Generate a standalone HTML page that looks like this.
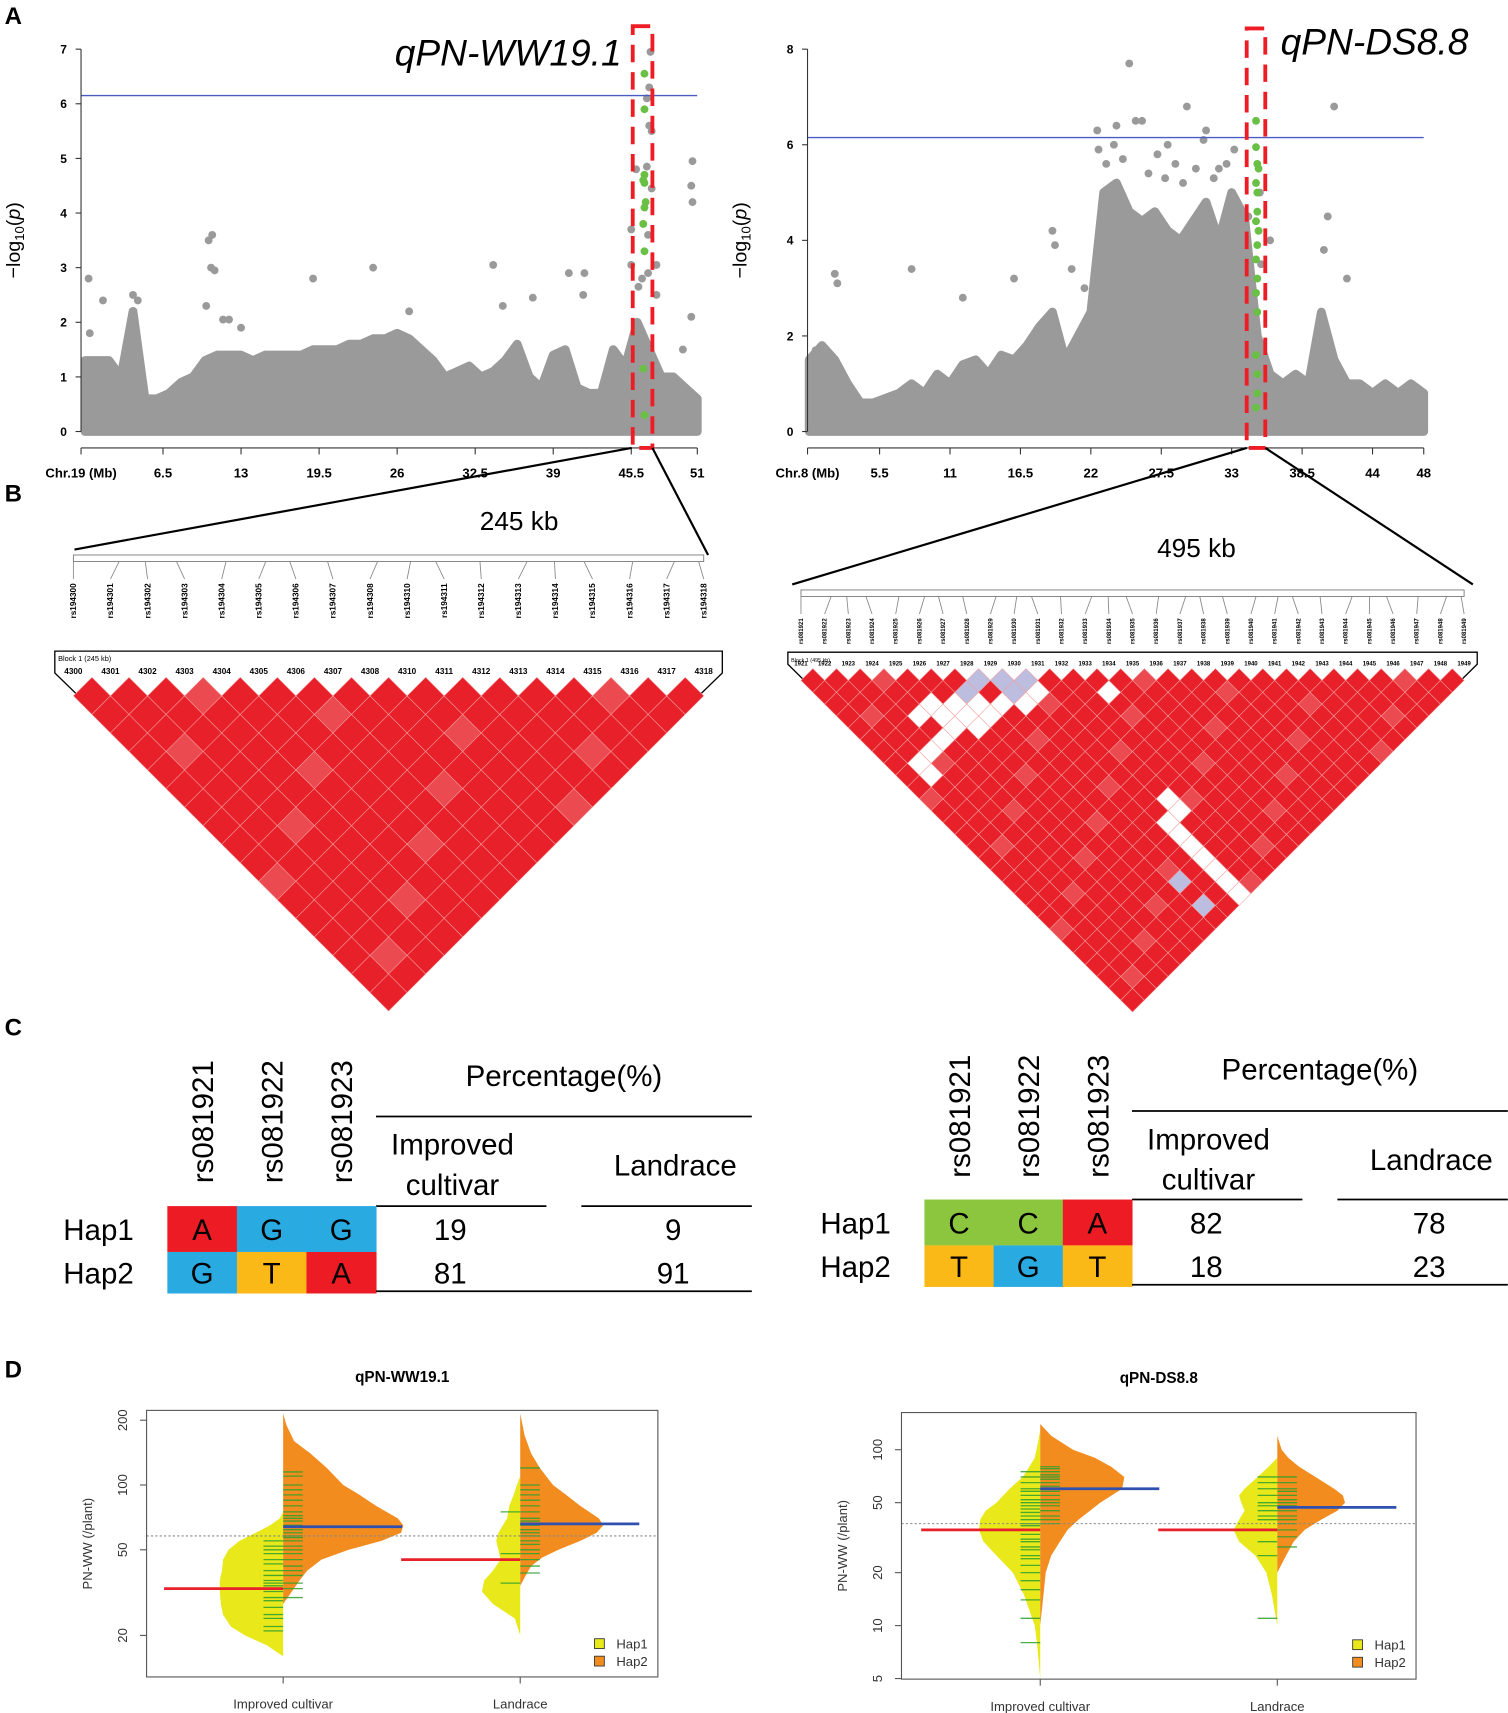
<!DOCTYPE html>
<html><head><meta charset="utf-8">
<style>
html,body{margin:0;padding:0;background:#fff;}
svg{display:block;font-family:"Liberation Sans",Arial,sans-serif;}
</style></head>
<body>
<svg id="fig" width="1508" height="1713" viewBox="0 0 1380 1568" xmlns="http://www.w3.org/2000/svg">
<g id="root"></g>
</svg>
<script>
// ===== Data: Panel A =====
const leftEnvPos = [0,1,2,3,4,5,6,7,8,9,10,11,12,13,14,15,16,17,18,19,20,21,22,23,24,25,26,27,28,29,30,31,32,33,34,35,36,37,38,39,40,41,42,43,44,45,46,47,48,49,50,51];
const leftEnvVal = [1.3,1.3,1.3,1.0,2.2,0.6,0.6,0.7,0.9,1.0,1.3,1.4,1.4,1.4,1.3,1.4,1.4,1.4,1.4,1.5,1.5,1.5,1.6,1.6,1.7,1.7,1.8,1.7,1.5,1.3,1.0,1.1,1.2,1.0,1.1,1.3,1.6,1.0,0.8,1.4,1.5,0.8,0.7,0.7,1.5,1.2,2.0,1.5,1.0,1.0,0.8,0.6];
const leftPtPos = [0.3,0.4,1.5,4.0,4.4,4.1,10.3,10.6,10.5,10.8,10.1,11.5,12.0,13.0,19.0,24.0,27.0,34.0,34.8,37.3,40.3,41.6,41.5,45.9,45.5,45.5,46.1,47.1,47.0,47.0,47.2,46.8,47.2,46.9,47.6,46.9,47.6,50.6,50.5,50.6,50.5,46.4,49.8,46.8];
const leftPtVal = [2.8,1.8,2.4,2.5,2.4,2.1,3.5,3.6,3.0,2.95,2.3,2.05,2.05,1.9,2.8,3.0,2.2,3.05,2.3,2.45,2.9,2.9,2.5,4.8,3.7,3.05,2.65,6.95,6.3,5.6,5.5,4.85,4.45,3.6,3.05,2.9,2.5,4.95,4.5,4.2,2.1,2.8,1.5,6.1];
const leftGreenPos = [46.6,46.6,46.6,46.5,46.6,46.7,46.6,46.5,46.6,46.5,46.6];
const leftGreenVal = [6.55,5.9,4.7,4.6,4.55,4.2,4.1,3.8,3.3,1.15,0.3];
const leftYTicks = [0,1,2,3,4,5,6,7];
const leftXTicks = [6.5,13,19.5,26,32.5,39,45.5,51];
const leftThreshold = 6.15;

const rightEnvPos = [0,1,2,3,4,5,6,7,8,9,10,11,12,13,14,15,16,17,18,19,20,21,22,23,24,25,26,27,28,29,30,31,32,33,34,35,36,37,38,39,40,41,42,43,44,45,46,47,48];
const rightEnvVal = [1.5,1.8,1.5,1.0,0.6,0.6,0.7,0.8,1.0,0.8,1.2,1.0,1.4,1.5,1.2,1.6,1.5,1.8,2.2,2.5,1.5,2.0,2.5,5.0,5.2,4.6,4.4,4.6,4.2,4.0,4.4,4.8,4.0,5.0,4.5,2.0,1.2,1.0,1.2,1.0,2.5,1.5,1.0,1.0,0.8,1.0,0.8,1.0,0.8];
const rightPtPos = [0.5,2.0,2.2,8.0,12.0,16.0,19.0,19.2,22.5,22.6,24.0,25.0,26.0,28.0,29.5,31.0,32.0,41.0,40.5,40.2,42.0,40.0,36.0,35.2,34.3,35.3,21.5,20.5,23.2,23.8,24.5,25.5,26.5,27.2,27.8,28.6,29.2,30.2,30.8,31.6,32.6,33.2];
const rightPtVal = [1.7,3.3,3.1,3.4,2.8,3.2,4.2,3.9,6.3,5.9,6.4,7.7,6.5,6.0,6.8,6.3,5.5,6.8,4.5,3.8,3.2,2.5,4.0,5.0,4.5,3.5,3.0,3.4,5.6,6.0,5.7,6.5,5.4,5.8,5.3,5.6,5.2,5.5,6.1,5.3,5.6,5.9];
const rightGreenPos = [34.9,34.9,35.0,35.1,34.9,35.0,35.0,34.9,35.1,35.0,34.9,35.0,34.9,35.0,34.9,35.0,35.0,34.9];
const rightGreenVal = [6.5,5.95,5.6,5.5,5.2,5.0,4.6,4.4,4.2,3.9,3.6,3.2,2.9,2.5,1.6,1.2,0.8,0.5];
const rightYTicks = [0,2,4,6,8];
const rightXTicks = [5.5,11,16.5,22,27.5,33,38.5,44,48];
const rightThreshold = 6.15;

// ===== Data: Panel B (LD) =====
const leftSnpIds = ["rs194300","rs194301","rs194302","rs194303","rs194304","rs194305","rs194306","rs194307","rs194308","rs194310","rs194311","rs194312","rs194313","rs194314","rs194315","rs194316","rs194317","rs194318"];
const leftHdrIds = ["4300","4301","4302","4303","4304","4305","4306","4307","4308","4310","4311","4312","4313","4314","4315","4316","4317","4318"];
const rightSnpNums = ["1921","1922","1923","1924","1925","1926","1927","1928","1929","1930","1931","1932","1933","1934","1935","1936","1937","1938","1939","1940","1941","1942","1943","1944","1945","1946","1947","1948","1949"];
const rightWhiteI = [3,4,4,5,5,5,6,6,7,4,3,2,1,1,8,9,12,10,10,9,9,9,9,9,9,9];
const rightWhiteJ = [7,7,8,8,9,10,10,9,10,9,9,9,9,10,11,11,14,21,22,22,23,24,25,26,27,28];
const rightLavI = [6,7,8,8,9,7,7];
const rightLavJ = [8,8,9,10,10,25,27];

// ===== Data: Panel C =====
const hapNames = ["Hap1","Hap2"];
const leftAlleles = [["A","G","G"],["G","T","A"]];
const rightAlleles = [["C","C","A"],["T","G","T"]];
const leftImproved = [19,81], leftLandrace = [9,91];
const rightImproved = [82,18], rightLandrace = [78,23];

// ===== Data: Panel D =====
const dL_IH1_v=[16,18,20,22,25,28,32,36,40,45,50,55,60,65,70,75], dL_IH1_w=[0,15,35,48,55,57,58,58,56,55,50,40,25,12,3,0];
const dL_IH2_v=[28,32,36,40,45,50,55,60,65,70,80,90,100,120,140,160,190,215], dL_IH2_w=[0,8,15,22,35,60,90,108,110,105,85,70,55,40,25,10,3,0];
const dL_LH1_v=[20,24,28,32,36,40,45,50,55,60,70,80,90,100,110], dL_LH1_w=[0,5,25,35,33,25,18,20,22,20,12,10,6,3,0];
const dL_LH2_v=[34,38,42,46,50,55,60,65,70,80,90,100,120,140,170,215], dL_LH2_w=[0,5,10,20,35,55,70,76,72,55,42,30,18,10,4,0];
const dR_IH1_v=[5,8,10,15,20,25,30,35,40,45,50,60,70,80,90,110,130], dR_IH1_w=[0,3,5,15,25,40,52,56,55,50,40,28,16,10,5,2,0];
const dR_IH2_v=[10,15,20,25,30,35,40,50,60,70,80,90,100,120,140], dR_IH2_w=[0,3,5,10,18,25,35,55,75,77,65,50,30,10,0];
const dR_LH1_v=[10,15,20,25,30,35,40,45,50,55,60,70,80,90], dR_LH1_w=[0,5,10,20,35,40,35,30,33,35,30,18,8,0];
const dR_LH2_v=[20,25,30,35,40,45,50,55,60,70,80,90,100,120], dR_LH2_w=[0,8,15,25,40,55,62,60,52,35,20,10,4,0];
const gL_IH1=[21,22,24,25,27,29,30,32,33,34,35,36,38,40,43,45,48,50,52,55];
const gL_IH2=[30,33,35,38,40,42,45,48,50,52,55,57,58,60,62,65,68,70,72,75,80,85,90,95,100,110,115];
const gL_LH1=[35,48,75];
const gL_LH2=[39,42,45,48,50,53,55,58,60,62,65,68,70,75,80,85,90,95,100,120];
const gR_IH1=[8,11,14,16,18,20,22,24,25,27,28,30,31,33,35,37,38,40,42,44,46,48,50,52,55,58,60,65,70,75];
const gR_IH2=[38,40,42,45,48,50,52,55,58,60,62,65,68,70,72,75,78,80];
const gR_LH1=[11,25,30,35,40,42,45,48,50,55,60,65,70];
const gR_LH2=[28,32,35,38,40,42,45,48,50,52,55,58,60,65,70];
const leftMeans = {ih1:33,ih2:64,lh1:45,lh2:66};
const rightMeans = {ih1:35,ih2:60,lh1:35,lh2:47};

// ===== Helpers =====
const NS="http://www.w3.org/2000/svg";
const root=document.getElementById('root');
function el(tag, attrs, parent, text){
  const e=document.createElementNS(NS,tag);
  for(const k in attrs) e.setAttribute(k,attrs[k]);
  if(text!==undefined) e.textContent=text;
  (parent||root).appendChild(e);
  return e;
}
function grp(name){ const g=el('g',{});   return g; }
function txt(parent,x,y,s,str,opts){
  const a=Object.assign({x:x,y:y,'font-size':s,'text-anchor':'middle',fill:'#000'},opts||{});
  const t=el('text',a,parent,str);
  return t;
}

// ===== Panel labels =====
const labels=[["A",12,22],["B",12,459],["C",12,948],["D",12,1261]];
labels.forEach(l=>{
  const t=txt(root,l[1],l[2],22,l[0],{'font-weight':'bold','text-anchor':'middle'});
  
  
});

// ===== Manhattan =====
function manhattan(cfg){
  const g=grp(cfg.name);
  const X=p=>cfg.x0+cfg.xs*p, Y=v=>cfg.y0-cfg.ys*v;
  let pts=[[X(cfg.envPos[0]),Y(0)]];
  cfg.envPos.forEach((p,i)=>pts.push([X(p),Y(cfg.envVal[i])]));
  pts.push([X(cfg.envPos[cfg.envPos.length-1]),Y(0)]);
  const env=el('polygon',{points:pts.map(p=>p.join(',')).join(' '),fill:'#9a9a9a',stroke:'#9a9a9a','stroke-width':8,'stroke-linejoin':'round'},g);
   
  cfg.ptPos.forEach((p,i)=>{
    const c=el('circle',{cx:X(p),cy:Y(cfg.ptVal[i]),r:3.6,fill:'#9a9a9a'},g);
     
  });
  cfg.gPos.forEach((p,i)=>{
    const c=el('circle',{cx:X(p),cy:Y(cfg.gVal[i]),r:3.6,fill:'#6abf45'},g);
     
  });
  const th=el('line',{x1:cfg.ax,x2:cfg.xEnd,y1:Y(cfg.th),y2:Y(cfg.th),stroke:'#4a5cc4','stroke-width':1.2},g);
   
  const yt=cfg.yTicks;
  el('line',{x1:cfg.ax,x2:cfg.ax,y1:Y(yt[0]),y2:Y(yt[yt.length-1]),stroke:'#333','stroke-width':1},g);
  yt.forEach(v=>{
    el('line',{x1:cfg.ax-5,x2:cfg.ax,y1:Y(v),y2:Y(v),stroke:'#333'},g);
    const t=txt(g,cfg.ax-16,Y(v)+4,11,String(v),{'font-weight':'bold'});
     
  });
  const yl=el('text',{x:0,y:0,'font-size':18,'text-anchor':'middle',transform:`translate(${cfg.ax-56},${cfg.y0-175}) rotate(-90)`},g);
  yl.innerHTML='\u2212log<tspan font-size="12" dy="4">10</tspan><tspan dy="-4">(</tspan><tspan font-style="italic">p</tspan>)';
   
  el('line',{x1:cfg.ax,x2:cfg.xEnd,y1:410,y2:410,stroke:'#333'},g);
  el('line',{x1:cfg.ax,x2:cfg.ax,y1:410,y2:416,stroke:'#333'},g);
  cfg.xTicks.forEach(v=>{
    el('line',{x1:X(v),x2:X(v),y1:410,y2:416,stroke:'#333'},g);
    const t=txt(g,X(v),437,12,String(v),{'font-weight':'bold'});
     
  });
  const xl=txt(g,cfg.ax,437,12,cfg.chr,{'font-weight':'bold'});
   
  const box=el('rect',{x:cfg.bx,y:cfg.by,width:cfg.bw,height:410-cfg.by,fill:'none',stroke:'#ee1c24','stroke-width':3.5,'stroke-dasharray':'16,9'},g);
   
  const ti=txt(g,cfg.tx,cfg.ty,34,cfg.title,{'font-style':'italic'});
   
}
manhattan({name:'manhattan-chr19',x0:77.6,xs:10.99,y0:395,ys:50,ax:74,xEnd:638,envPos:leftEnvPos,envVal:leftEnvVal,ptPos:leftPtPos,ptVal:leftPtVal,gPos:leftGreenPos,gVal:leftGreenVal,th:leftThreshold,yTicks:leftYTicks,xTicks:leftXTicks,chr:'Chr.19 (Mb)',bx:579,by:24,bw:18,tx:465,ty:60,title:'qPN-WW19.1'});
manhattan({name:'manhattan-chr8',x0:740.5,xs:11.72,y0:395,ys:43.75,ax:739,xEnd:1303,envPos:rightEnvPos,envVal:rightEnvVal,ptPos:rightPtPos,ptVal:rightPtVal,gPos:rightGreenPos,gVal:rightGreenVal,th:rightThreshold,yTicks:rightYTicks,xTicks:rightXTicks,chr:'Chr.8 (Mb)',bx:1141,by:26,bw:17,tx:1258,ty:50,title:'qPN-DS8.8'});

// ===== LD blocks =====
function ldBlock(cfg){
  const g=grp(cfg.name);
  el('line',{x1:cfg.fromL[0],y1:cfg.fromL[1],x2:cfg.toL[0],y2:cfg.toL[1],stroke:'#000','stroke-width':2},g);
  el('line',{x1:cfg.fromR[0],y1:cfg.fromR[1],x2:cfg.toR[0],y2:cfg.toR[1],stroke:'#000','stroke-width':2},g);
  const sz=txt(g,cfg.kbX,cfg.kbY,24,cfg.kb);
   
  const n=cfg.labels.length, x0=cfg.x0, s=cfg.s, h=s/2;
  el('rect',{x:x0,y:cfg.barY,width:(n-1)*s,height:6,fill:'none',stroke:'#777','stroke-width':0.8},g);
  for(let i=0;i<n;i++){
    const xi=x0+i*s;
    const bp=x0+i*s + Math.sin(i*1.7)*cfg.jit;
    el('line',{x1:bp,y1:cfg.barY+6,x2:xi,y2:cfg.barY+22,stroke:'#888','stroke-width':0.8},g);
    const t=el('text',{x:0,y:0,'font-size':cfg.lfs,'font-weight':'bold','text-anchor':'end',transform:`translate(${xi+cfg.lfs/3},${cfg.barY+26}) rotate(-90)`},g,cfg.snpLabels[i]);
     
  }
  const top=cfg.hdrY, ty=cfg.triTop;
  let path=`M${x0-cfg.pad},${top} L${x0+(n-1)*s+cfg.pad},${top} L${x0+(n-1)*s+cfg.pad},${ty-4} L${x0+(n-1)*s/2},${ty+(n-1)*h+4} L${x0-cfg.pad},${ty-4} Z`;
  el('path',{d:path,fill:'#fff',stroke:'#000','stroke-width':1.2},g);
  el('text',{x:x0-cfg.pad+3,y:top+9,'font-size':cfg.lfs*0.9},g,cfg.blockLabel);
  for(let i=0;i<n;i++){
    const t=txt(g,x0+i*s,ty-3,cfg.lfs,cfg.labels[i],{'font-weight':'bold'});
     
  }
  const white=new Set(cfg.wI.map((v,k)=>v+'-'+cfg.wJ[k]));
  const lav=new Set(cfg.lI.map((v,k)=>v+'-'+cfg.lJ[k]));
  for(let i=0;i<n;i++) for(let j=i+1;j<n;j++){
    const cx=x0+(i+j)/2*s, cy=ty+(j-i)*h;
    let f='#e8202a';
    if(white.has(i+'-'+j)) f='#ffffff'; else if(lav.has(i+'-'+j)) f='#bdbde0';
    else if(((i*7+j*3)%11)==0) f='#ea4a50';
    const d=el('polygon',{points:`${cx},${cy-h} ${cx+h},${cy} ${cx},${cy+h} ${cx-h},${cy}`,fill:f,stroke:'#f3a0a0','stroke-width':0.5},g);
     
  }
}
ldBlock({name:'ld-block-chr19',fromL:[578,410],toL:[68,503],fromR:[597,410],toR:[648,508],kb:'245 kb',kbX:475,kbY:485,
  labels:leftHdrIds,snpLabels:leftSnpIds,x0:67,s:(644-67)/17,barY:508,hdrY:596,triTop:620,pad:17,lfs:7.5,jit:8,blockLabel:'Block 1 (245 kb)',
  wI:[],wJ:[],lI:[],lJ:[]});
const rLabs=rightSnpNums.map(x=>'rs08'+x);
ldBlock({name:'ld-block-chr8',fromL:[1141,410],toL:[725,535],fromR:[1158,410],toR:[1348,535],kb:'495 kb',kbX:1095,kbY:510,
  labels:rightSnpNums,snpLabels:rLabs,x0:733,s:(1340-733)/28,barY:540,hdrY:597,triTop:612,pad:12,lfs:5.5,jit:6,blockLabel:'Block 1 (495 kb)',
  wI:rightWhiteI,wJ:rightWhiteJ,lI:rightLavI,lJ:rightLavJ});

// ===== Haplotype tables =====
const alleleColor={A:'#ed1c24',G:'#29abe2',T:'#fbb917',C:'#8cc63f'};
function hapTable(cfg){
  const g=grp(cfg.name);
  const cw=(cfg.cx1-cfg.cx0)/3;
  cfg.snps.forEach((sname,k)=>{
    const t=el('text',{x:0,y:0,'font-size':27,'text-anchor':'start',transform:`translate(${cfg.cx0+cw*k+cw/2+10},${cfg.hdrBottom}) rotate(-90)`},g,sname);
     
  });
  txt(g,(cfg.cx1+cfg.tEnd)/2,cfg.pctY,27,'Percentage(%)');
  el('line',{x1:cfg.cx1,x2:cfg.tEnd,y1:cfg.pctLine,y2:cfg.pctLine,stroke:'#000','stroke-width':1.6},g);
  const mid=(cfg.cx1+cfg.tEnd)/2;
  const c1=(cfg.cx1+mid)/2-16, c2=(mid+cfg.tEnd)/2+16;
  txt(g,c1,cfg.pctLine+35,27,'Improved'); txt(g,c1,cfg.pctLine+72,27,'cultivar');
  txt(g,c2,cfg.pctLine+54,27,'Landrace');
  el('line',{x1:cfg.cx1,x2:mid-16,y1:cfg.r0,y2:cfg.r0,stroke:'#000','stroke-width':1.6},g);
  el('line',{x1:mid+16,x2:cfg.tEnd,y1:cfg.r0,y2:cfg.r0,stroke:'#000','stroke-width':1.6},g);
  const rh=[42,38];
  let y=cfg.r0;
  hapNames.forEach((hn,r)=>{
    const ht=txt(g,cfg.hapX,y+rh[r]/2+10,27,hn);
     
    cfg.alleles[r].forEach((a,k)=>{
      const rc=el('rect',{x:cfg.cx0+cw*k,y:y,width:cw+0.5,height:rh[r],fill:alleleColor[a]},g);
       
      txt(g,cfg.cx0+cw*k+cw/2,y+rh[r]/2+10,27,a);
    });
    const v1=txt(g,c1-2,y+rh[r]/2+10,27,String(cfg.imp[r]));
     
    const v2=txt(g,c2-2,y+rh[r]/2+10,27,String(cfg.land[r]));
     
    y+=rh[r];
  });
  el('line',{x1:cfg.cx1,x2:cfg.tEnd,y1:y-2,y2:y-2,stroke:'#000','stroke-width':1.6},g);
}
hapTable({name:'haplotype-table-qpn-ww19',snps:['rs081921','rs081922','rs081923'],cx0:153,cx1:344,tEnd:688,hdrBottom:1083,pctY:994,pctLine:1022,r0:1104,hapX:90,alleles:leftAlleles,imp:leftImproved,land:leftLandrace});
hapTable({name:'haplotype-table-qpn-ds8',snps:['rs081921','rs081922','rs081923'],cx0:846,cx1:1036,tEnd:1380,hdrBottom:1078,pctY:988,pctLine:1017,r0:1098,hapX:783,alleles:rightAlleles,imp:rightImproved,land:rightLandrace});

// ===== Bean plots =====
function bean(cfg){
  const g=grp(cfg.name);
  const Y=v=>cfg.yRef-(Math.log10(v)-Math.log10(cfg.vRef))*cfg.dec;
  const t=txt(g,(cfg.bx0+cfg.bx1)/2,cfg.titleY,14,cfg.title,{'font-weight':'bold'});
   
  function half(vals,ws,cx,dir,col,nm){
    let d=`M${cx},${Y(vals[0])}`;
    vals.forEach((v,i)=>{d+=` L${cx+dir*ws[i]},${Y(v)}`;});
    d+=` L${cx},${Y(vals[vals.length-1])} Z`;
    const p=el('path',{d:d,fill:col},g);
     
  }
  const cs=[cfg.c1,cfg.c2];
  half(cfg.ih1v,cfg.ih1w,cs[0],-1,'#e8e81a','violin-improved-hap1');
  half(cfg.ih2v,cfg.ih2w,cs[0],1,'#f28c1e','violin-improved-hap2');
  half(cfg.lh1v,cfg.lh1w,cs[1],-1,'#e8e81a','violin-landrace-hap1');
  half(cfg.lh2v,cfg.lh2w,cs[1],1,'#f28c1e','violin-landrace-hap2');
  [[cfg.g1,cs[0],-1],[cfg.g2,cs[0],1],[cfg.g3,cs[1],-1],[cfg.g4,cs[1],1]].forEach(a=>{
    a[0].forEach(v=>{
      const l=el('line',{x1:a[1],x2:a[1]+a[2]*18,y1:Y(v),y2:Y(v),stroke:'#2ca02c','stroke-width':1.2,opacity:0.85},g);
       
    });
  });
  el('line',{x1:cfg.bx0,x2:cfg.bx1,y1:Y(cfg.overall),y2:Y(cfg.overall),stroke:'#888','stroke-dasharray':'2,2','stroke-width':1},g);
  const m=cfg.means;
  [[m.ih1,cs[0],-1,'#e8202a'],[m.ih2,cs[0],1,'#3050b0'],[m.lh1,cs[1],-1,'#e8202a'],[m.lh2,cs[1],1,'#3050b0']].forEach(a=>{
    const l=el('line',{x1:a[1],x2:a[1]+a[2]*109,y1:Y(a[0]),y2:Y(a[0]),stroke:a[3],'stroke-width':2.5},g);
     
  });
  el('rect',{x:cfg.bx0,y:cfg.by0,width:cfg.bx1-cfg.bx0,height:cfg.by1-cfg.by0,fill:'none',stroke:'#555','stroke-width':1},g);
  cfg.ticks.forEach(v=>{
    el('line',{x1:cfg.bx0-6,x2:cfg.bx0,y1:Y(v),y2:Y(v),stroke:'#555'},g);
    const tl=el('text',{x:0,y:0,'font-size':12,'text-anchor':'middle',transform:`translate(${cfg.bx0-18},${Y(v)}) rotate(-90)`,fill:'#333'},g,String(v));
     
  });
  const yl=el('text',{x:0,y:0,'font-size':12,'text-anchor':'middle',transform:`translate(${cfg.bx0-50},${(cfg.by0+cfg.by1)/2}) rotate(-90)`,fill:'#333'},g,'PN-WW (/plant)');
   
  [['Improved cultivar',cs[0]],['Landrace',cs[1]]].forEach(a=>{
    el('line',{x1:a[1],x2:a[1],y1:cfg.by1,y2:cfg.by1+6,stroke:'#555'},g);
    const xl=txt(g,a[1],cfg.by1+29,12,a[0],{fill:'#333'});
     
  });
  [['Hap1','#e8e81a',0],['Hap2','#f28c1e',16]].forEach(a=>{
    const r=el('rect',{x:cfg.lgX,y:cfg.lgY+a[2]-5,width:9,height:9,fill:a[1],stroke:'#333','stroke-width':0.8},g);
     
    const lt=el('text',{x:cfg.lgX+20,y:cfg.lgY+a[2]+4,'font-size':12,fill:'#333'},g,a[0]);
     
  });
}
bean({name:'bean-plot-qpn-ww19',title:'qPN-WW19.1',titleY:1265,bx0:134,bx1:602,by0:1291,by1:1535,c1:259,c2:476,yRef:1497,vRef:20,dec:197,ticks:[20,50,100,200],overall:58,
  ih1v:dL_IH1_v,ih1w:dL_IH1_w,ih2v:dL_IH2_v,ih2w:dL_IH2_w,lh1v:dL_LH1_v,lh1w:dL_LH1_w,lh2v:dL_LH2_v,lh2w:dL_LH2_w,
  g1:gL_IH1,g2:gL_IH2,g3:gL_LH1,g4:gL_LH2,means:leftMeans,lgX:544,lgY:1505});
bean({name:'bean-plot-qpn-ds8',title:'qPN-DS8.8',titleY:1266,bx0:825,bx1:1296,by0:1293,by1:1537,c1:952,c2:1169,yRef:1488,vRef:10,dec:161,ticks:[5,10,20,50,100],overall:38,
  ih1v:dR_IH1_v,ih1w:dR_IH1_w,ih2v:dR_IH2_v,ih2w:dR_IH2_w,lh1v:dR_LH1_v,lh1w:dR_LH1_w,lh2v:dR_LH2_v,lh2w:dR_LH2_w,
  g1:gR_IH1,g2:gR_IH2,g3:gR_LH1,g4:gR_LH2,means:rightMeans,lgX:1238,lgY:1506});
</script>
</body></html>
